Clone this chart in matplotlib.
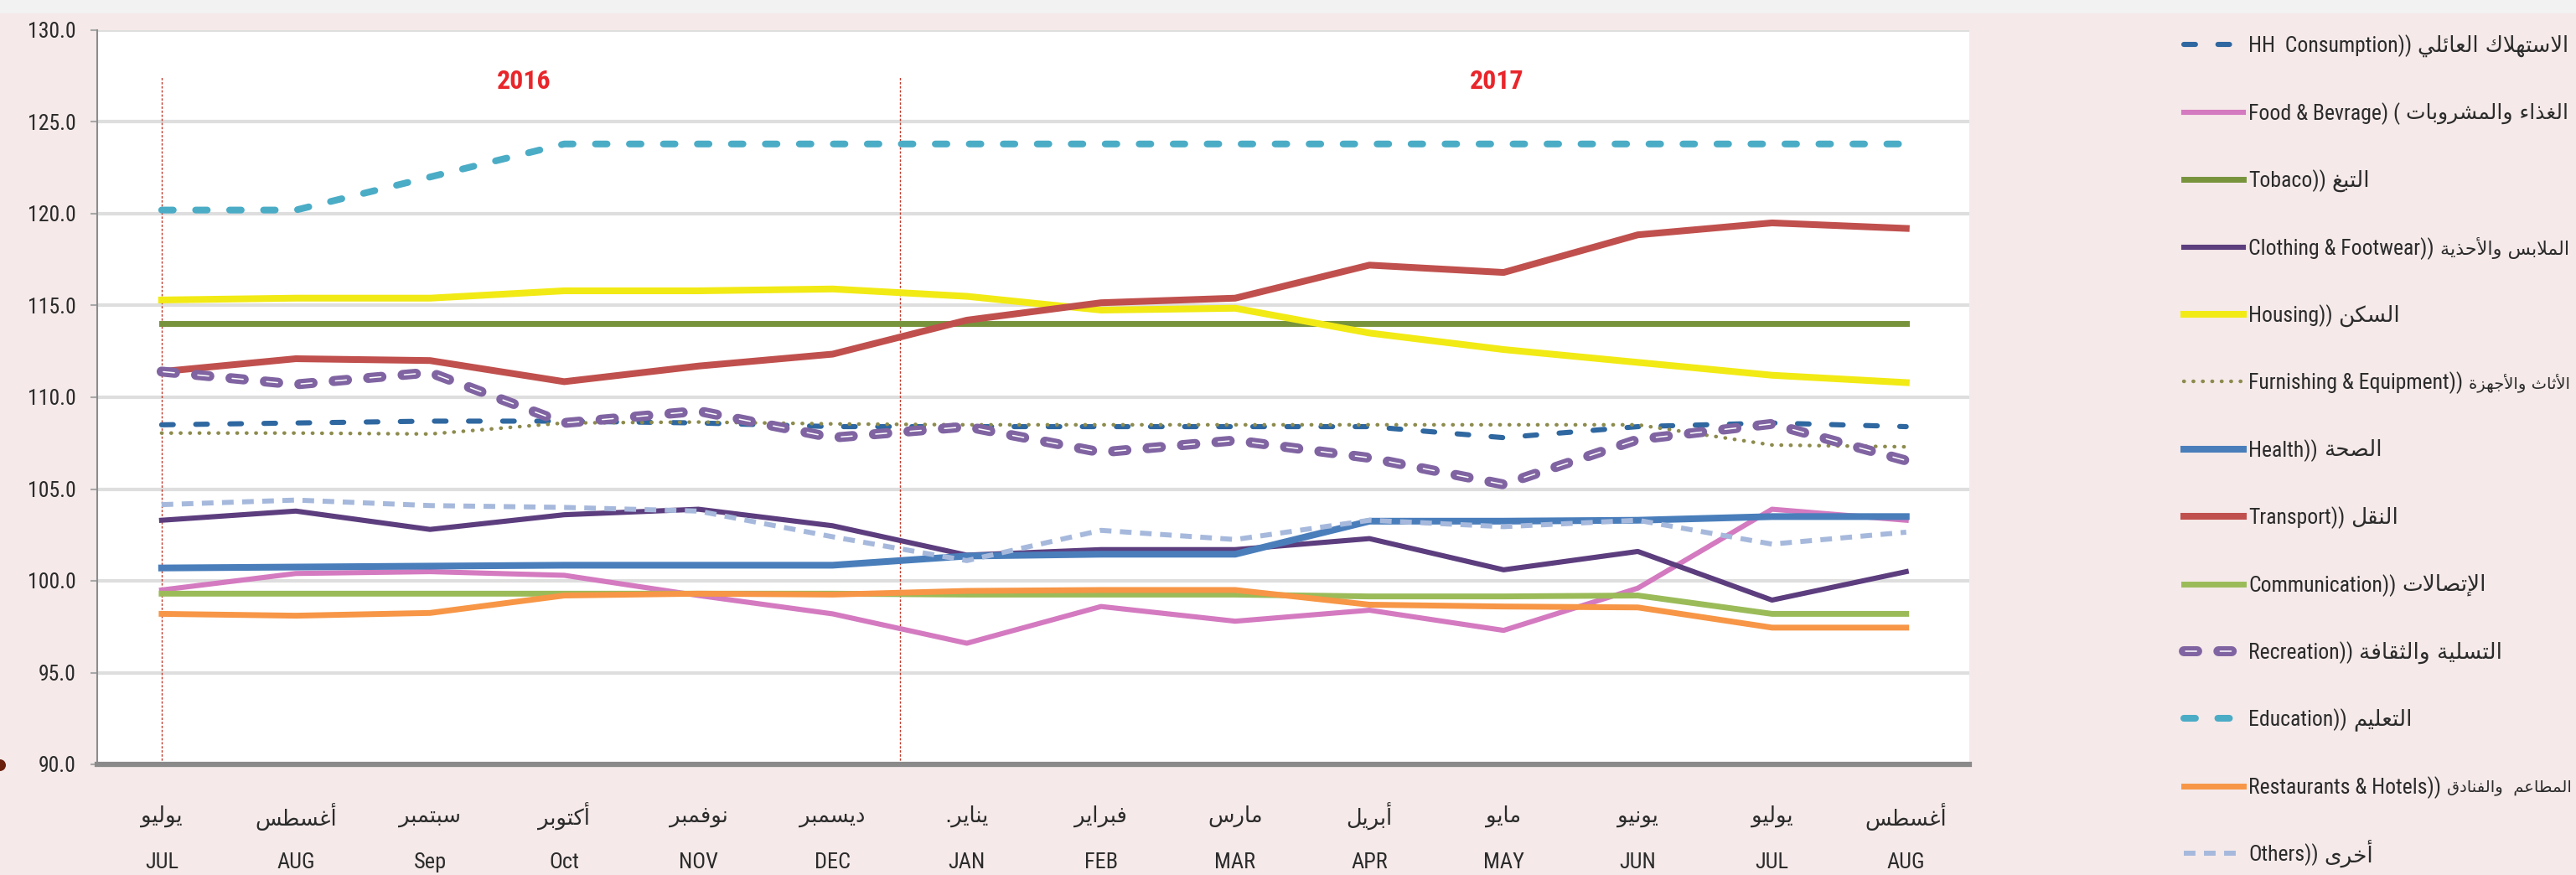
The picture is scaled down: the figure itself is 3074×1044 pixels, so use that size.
import os
import matplotlib
matplotlib.use('Agg')
import matplotlib.pyplot as plt
from matplotlib import font_manager as fm
from matplotlib.font_manager import FontProperties
from matplotlib.legend_handler import HandlerTuple
from matplotlib.ticker import FormatStrFormatter
from matplotlib.patches import Rectangle, Ellipse
import numpy as np

# ---------------- data ----------------
months_en = ['JUL', 'AUG', 'Sep', 'Oct', 'NOV', 'DEC', 'JAN', 'FEB', 'MAR', 'APR', 'MAY', 'JUN', 'JUL', 'AUG']
months_ar = ['يوليو', 'أغسطس', 'سبتمبر', 'أكتوبر', 'نوفمبر', 'ديسمبر', 'يناير.', 'فبراير', 'مارس', 'أبريل', 'مايو', 'يونيو', 'يوليو', 'أغسطس']
years = ['2016', '2017']

hh_consumption = [108.5, 108.6, 108.7, 108.7, 108.6, 108.4, 108.4, 108.4, 108.4, 108.4, 107.8, 108.4, 108.6, 108.4]
food = [99.5, 100.4, 100.5, 100.3, 99.2, 98.2, 96.6, 98.6, 97.8, 98.4, 97.3, 99.6, 103.9, 103.3]
tobacco = [114.0, 114.0, 114.0, 114.0, 114.0, 114.0, 114.0, 114.0, 114.0, 114.0, 114.0, 114.0, 114.0, 114.0]
clothing = [103.3, 103.8, 102.8, 103.6, 103.9, 103.0, 101.4, 101.7, 101.7, 102.3, 100.6, 101.6, 98.95, 100.5]
housing = [115.3, 115.4, 115.4, 115.8, 115.8, 115.9, 115.5, 114.75, 114.85, 113.5, 112.6, 111.9, 111.2, 110.8]
furnishing = [108.05, 108.05, 108.0, 108.6, 108.65, 108.55, 108.5, 108.5, 108.5, 108.5, 108.5, 108.5, 107.4, 107.3]
health = [100.7, 100.75, 100.8, 100.85, 100.85, 100.85, 101.35, 101.45, 101.45, 103.25, 103.25, 103.3, 103.5, 103.5]
transport = [111.4, 112.1, 112.0, 110.85, 111.7, 112.35, 114.2, 115.15, 115.4, 117.2, 116.8, 118.85, 119.5, 119.2]
communication = [99.3, 99.3, 99.3, 99.3, 99.3, 99.3, 99.25, 99.25, 99.25, 99.15, 99.15, 99.2, 98.2, 98.2]
recreation = [111.4, 110.7, 111.35, 108.6, 109.25, 107.8, 108.4, 107.0, 107.65, 106.7, 105.25, 107.7, 108.55, 106.55]
education = [120.2, 120.2, 122.0, 123.8, 123.8, 123.8, 123.8, 123.8, 123.8, 123.8, 123.8, 123.8, 123.8, 123.8]
restaurants = [98.2, 98.1, 98.25, 99.2, 99.3, 99.25, 99.45, 99.5, 99.5, 98.7, 98.6, 98.55, 97.45, 97.45]
others = [104.15, 104.4, 104.1, 104.0, 103.8, 102.4, 101.1, 102.75, 102.25, 103.3, 102.95, 103.3, 102.0, 102.65]

labels_en = ['HH  Consumption))', 'Food & Bevrage) (', 'Tobaco))', 'Clothing & Footwear))', 'Housing))',
             'Furnishing & Equipment))', 'Health))', 'Transport))', 'Communication))', 'Recreation))',
             'Education))', 'Restaurants & Hotels))', 'Others))']
labels_ar = ['الاستهلاك العائلي', 'الغذاء والمشروبات', 'التبغ', 'الملابس والأحذية', 'السكن',
             'الأثاث والأجهزة', 'الصحة', 'النقل', 'الإتصالات', 'التسلية والثقافة',
             'التعليم', 'المطاعم  والفنادق', 'أخرى']

# ---------------- Arabic shaping (presentation forms, visual order) ----------------
_AR = {'ء': (0xFE80, 0), 'آ': (0xFE81, 1), 'أ': (0xFE83, 1), 'ؤ': (0xFE85, 1), 'إ': (0xFE87, 1),
       'ئ': (0xFE89, 2), 'ا': (0xFE8D, 1), 'ب': (0xFE8F, 2), 'ة': (0xFE93, 1), 'ت': (0xFE95, 2),
       'ث': (0xFE99, 2), 'ج': (0xFE9D, 2), 'ح': (0xFEA1, 2), 'خ': (0xFEA5, 2), 'د': (0xFEA9, 1),
       'ذ': (0xFEAB, 1), 'ر': (0xFEAD, 1), 'ز': (0xFEAF, 1), 'س': (0xFEB1, 2), 'ش': (0xFEB5, 2),
       'ص': (0xFEB9, 2), 'ض': (0xFEBD, 2), 'ط': (0xFEC1, 2), 'ظ': (0xFEC5, 2), 'ع': (0xFEC9, 2),
       'غ': (0xFECD, 2), 'ف': (0xFED1, 2), 'ق': (0xFED5, 2), 'ك': (0xFED9, 2), 'ل': (0xFEDD, 2),
       'م': (0xFEE1, 2), 'ن': (0xFEE5, 2), 'ه': (0xFEE9, 2), 'و': (0xFEED, 1), 'ى': (0xFEEF, 1),
       'ي': (0xFEF1, 2)}
_LA = {'آ': 0xFEF5, 'أ': 0xFEF7, 'إ': 0xFEF9, 'ا': 0xFEFB}


def shape_ar(s):
    toks = []
    i = 0
    while i < len(s):
        c = s[i]
        if c == 'ل' and i + 1 < len(s) and s[i + 1] in _LA:
            toks.append(('A', _LA[s[i + 1]], 1))
            i += 2
            continue
        if c in _AR:
            b, jt = _AR[c]
            toks.append(('A', b, jt))
        else:
            toks.append(('C', c, 0))
        i += 1
    out = []
    for k, t in enumerate(toks):
        if t[0] != 'A':
            out.append(t[1])
            continue
        b, jt = t[1], t[2]
        prev = toks[k - 1] if k > 0 else None
        nxt = toks[k + 1] if k + 1 < len(toks) else None
        pj = prev is not None and prev[0] == 'A' and prev[2] == 2
        nj = jt == 2 and nxt is not None and nxt[0] == 'A' and nxt[2] >= 1
        if jt == 0:
            out.append(chr(b))
        elif jt == 1:
            out.append(chr(b + 1 if pj else b))
        else:
            off = 3 if (pj and nj) else (1 if pj else (2 if nj else 0))
            out.append(chr(b + off))
    return ''.join(reversed(out))


# ---------------- fonts: look for a narrow Latin face by file name ----------------
_files = {}
for f in fm.fontManager.ttflist:
    key = os.path.splitext(os.path.basename(f.fname))[0].lower().replace('-', '').replace('_', '')
    _files.setdefault(key, f.fname)

_pref = [('liberationsansnarrowregular', 'liberationsansnarrowbold'),
         ('notosanscondensed', 'notosanscondensedbold'),
         ('notosanscondensedregular', 'notosanscondensedbold'),
         ('robotocondensedregular', 'robotocondensedbold'),
         ('opensanscondensedregular', 'opensanscondensedbold'),
         ('notosanssemicondensed', 'notosanssemicondensedbold'),
         ('notosanssemicondensedregular', 'notosanssemicondensedbold'),
         ('dejavusanscondensed', 'dejavusanscondensedbold')]
REG, BOLD = None, None
for r, b in _pref:
    if r in _files:
        REG = _files[r]
        BOLD = _files.get(b)
        break
NARROW = REG is not None


def latp(size, bold=False):
    if bold and BOLD:
        return FontProperties(fname=BOLD, size=size)
    if not bold and REG:
        return FontProperties(fname=REG, size=size)
    return FontProperties(family=['Liberation Sans'], size=size * (1.0 if NARROW else 0.92),
                          weight='bold' if bold else 'normal')


def arp(size):
    return FontProperties(family=['DejaVu Sans'], size=size)


plt.rcParams['font.family'] = ['Liberation Sans', 'DejaVu Sans']
plt.rcParams['lines.scale_dashes'] = False

BG = '#F5E9E9'
TXT = '#2B2B2B'
W, H = 3074, 1044
fig = plt.figure(figsize=(W / 100, H / 100), dpi=100, facecolor=BG)
fig.add_artist(Rectangle((0, 1 - 16 / H), 1, 16 / H, transform=fig.transFigure,
                         facecolor='#F2F2F2', edgecolor='none', zorder=0))
fig.add_artist(Ellipse((0.0, 1 - 913 / H), 14 / W, 14 / H, transform=fig.transFigure,
                       facecolor='#6B200C', edgecolor='none'))

ax = fig.add_axes([116 / W, 1 - 912 / H, (2350 - 116) / W, (912 - 36) / H])
ax.set_facecolor('white')
x = np.arange(len(months_en))
ax.set_xlim(-0.48, 13.47)
ax.set_ylim(90, 130)
ax.set_yticks(np.arange(90, 130.1, 5))
ax.yaxis.set_major_formatter(FormatStrFormatter('%.1f'))
ax.grid(axis='y', color='#DEDEDE', lw=3)
ax.set_axisbelow(True)
for s in ['top', 'right']:
    ax.spines[s].set_visible(False)
ax.spines['left'].set_color('#8C8C8C')
ax.spines['left'].set_linewidth(1.5)
ax.spines['bottom'].set_color('#8A8A8A')
ax.spines['bottom'].set_linewidth(4.5)
ax.tick_params(axis='y', length=6, width=1.5, color='#A8A8A8', pad=12, labelcolor=TXT)
ax.tick_params(axis='x', length=0, labelbottom=False)
for lab in ax.get_yticklabels():
    lab.set_fontproperties(latp(18.5))

# month labels
for i in x:
    ax.text(i, -0.071, shape_ar(months_ar[i]), transform=ax.get_xaxis_transform(),
            ha='center', va='center', color=TXT, fontproperties=arp(18.5))
    ax.text(i, -0.134, months_en[i], transform=ax.get_xaxis_transform(),
            ha='center', va='center', color=TXT, fontproperties=latp(19))

# year dividers and labels
divider_x = [0, 5.5]
ax.vlines(divider_x, 90, 127.5, colors='#C0392B', linestyles=(0, (2, 1.5)), lw=1.0, zorder=1)
year_x = [2.7, 9.95]
for yx, yr in zip(year_x, years):
    ax.text(yx, 127.2, yr, ha='center', va='center', color='#E8262B', fontproperties=latp(23, bold=True))

# series
h_hh, = ax.plot(x, hh_consumption, color='#2F67A0', lw=4.4, ls=(0, (10, 19.3)), dash_capstyle='round')
h_food, = ax.plot(x, food, color='#D47AC0', lw=4.4)
h_tob, = ax.plot(x, tobacco, color='#77933C', lw=5)
h_clo, = ax.plot(x, clothing, color='#5C3D7E', lw=4.4)
h_hou, = ax.plot(x, housing, color='#F2EA14', lw=5.8)
h_fur, = ax.plot(x, furnishing, color='#8D8B4D', lw=3.2, ls=(0, (0.3, 7.8)), dash_capstyle='round')
h_hea, = ax.plot(x, health, color='#4A7EBB', lw=5.8)
h_tra, = ax.plot(x, transport, color='#C0504D', lw=5.8)
h_com, = ax.plot(x, communication, color='#9BBB59', lw=5)
h_rec1, = ax.plot(x, recreation, color='#8064A2', lw=8.6, ls=(0, (11.5, 18.2)), dash_capstyle='round')
h_rec2, = ax.plot(x, recreation, color='white', lw=1.1, ls=(28.2, (9.5, 20.2)), dash_capstyle='round')
h_edu, = ax.plot(x, education, color='#4BACC6', lw=5.8, ls=(0, (10, 19.2)), dash_capstyle='round')
h_res, = ax.plot(x, restaurants, color='#F79646', lw=5)
h_oth, = ax.plot(x, others, color='#A6B9DC', lw=4.3, ls=(0, (10, 7.3)), dash_capstyle='butt')

handles = [h_hh, h_food, h_tob, h_clo, h_hou, h_fur, h_hea, h_tra, h_com, (h_rec1, h_rec2), h_edu, h_res, h_oth]
LEG_PT = 18.5
leg_prop = latp(LEG_PT)
fs_px = leg_prop.get_size_in_points() * 100 / 72
HANDLE_X0, HANDLE_LEN, TEXT_X0 = 2606, 71, 2683
FIRST_Y, PITCH = 55, 80.4


def make_legend(spacing, top):
    lg = fig.legend(handles, labels_en, loc='upper left', bbox_to_anchor=(HANDLE_X0 / W, 1 - top / H),
                    frameon=False, prop=leg_prop, handlelength=HANDLE_LEN / fs_px,
                    handletextpad=(TEXT_X0 - HANDLE_X0 - HANDLE_LEN) / fs_px,
                    labelspacing=spacing, borderpad=0, borderaxespad=0,
                    handler_map={tuple: HandlerTuple(ndivide=1)})
    for t in lg.get_texts():
        t.set_color(TXT)
    return lg


spacing, top = 2.2, 40.0
leg = make_legend(spacing, top)
for _ in range(3):
    fig.canvas.draw()
    r = fig.canvas.get_renderer()
    cy = [(t.get_window_extent(r).y0 + t.get_window_extent(r).y1) / 2 for t in leg.get_texts()]
    pitch = (cy[0] - cy[-1]) / (len(cy) - 1)
    spacing += (PITCH - pitch) / fs_px
    top += FIRST_Y - (H - cy[0])
    leg.remove()
    leg = make_legend(spacing, top)

# Arabic part of each legend label, drawn right after the English part
fig.canvas.draw()
renderer = fig.canvas.get_renderer()
for t, ar in zip(leg.get_texts(), labels_ar):
    bb = t.get_window_extent(renderer)
    size = 19
    at = fig.text((bb.x1 + 7) / W, (bb.y0 + bb.y1) / 2 / H, shape_ar(ar), ha='left', va='center',
                  color=TXT, fontproperties=arp(size))
    while at.get_window_extent(renderer).x1 > W - 5 and size > 9:
        size -= 0.5
        at.set_fontproperties(arp(size))

fig.savefig('out.png', dpi=100, facecolor=BG)
